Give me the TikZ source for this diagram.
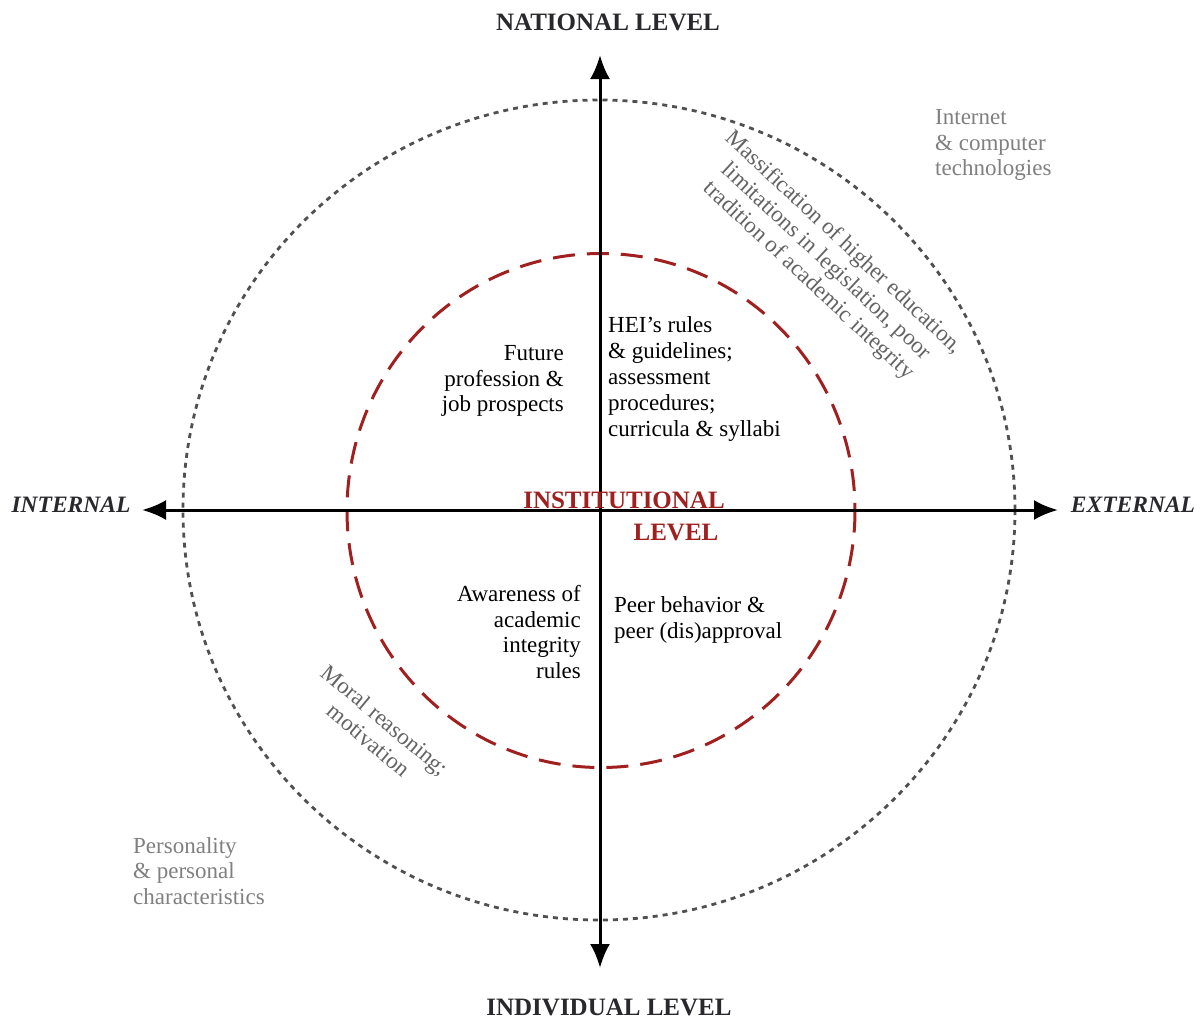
\documentclass[tikz,border=0pt]{standalone}
\usepackage{fontspec}
\setmainfont{Liberation Serif}
\usetikzlibrary{arrows.meta}
\definecolor{instred}{RGB}{160,32,32}
\definecolor{greytext}{RGB}{128,128,128}
\definecolor{rottext}{RGB}{100,100,100}
\definecolor{titletext}{RGB}{40,40,45}
\definecolor{dotgrey}{RGB}{80,80,80}
\begin{document}
\begin{tikzpicture}[x=1pt,y=-1pt,
  body/.style={font=\fontsize{23}{25.8}\selectfont, inner sep=0pt},
  title/.style={font=\fontsize{25}{28}\selectfont\bfseries, text=titletext, inner sep=0pt},
  side/.style={font=\fontsize{23.5}{26}\selectfont\bfseries\itshape, text=titletext, inner sep=0pt},
  inst/.style={font=\fontsize{25}{28}\selectfont\bfseries, text=instred, inner sep=0pt},
  grey/.style={body, text=greytext},
  rot/.style={body, text=rottext, align=center},
  axis/.style={line width=3pt, {Latex[length=24pt,width=20pt]}-{Latex[length=24pt,width=20pt]}},
  outer/.style={dotgrey, line width=2.8pt, dash pattern=on 5pt off 5pt},
  inner/.style={instred, line width=3pt, dash pattern=on 22pt off 12pt}]
\useasboundingbox (0,0) rectangle (1200,1021);
\fill[white] (0,0) rectangle (1200,1021);

% circles
\draw[outer] (599,510) ellipse [x radius=416, y radius=410];
\draw[inner] (601,510.5) ellipse [x radius=254, y radius=257];

% axes
\coordinate (ntop) at (600,55);
\coordinate (nbot) at (600,968);
\coordinate (nleft) at (142,510);
\coordinate (nright) at (1058,510);
\draw[axis] (ntop) -- (nbot);
\draw[axis] (nleft) -- (nright);

% axis labels
\node[title] (national) at (608,22) {NATIONAL LEVEL};
\node[title] (individual) at (609,1007) {INDIVIDUAL LEVEL};
\node[side] (internal) at (71,505) {INTERNAL};
\node[side] (external) at (1133,505) {EXTERNAL};

% institutional level
\node[inst] (instA) at (624,500) {INSTITUTIONAL};
\node[inst] (instB) at (676,532) {LEVEL};

% quadrant texts
\node[body, align=right, anchor=east] (future) at (564,381) {Future\\profession \&\\job prospects};
\node[body, align=left, anchor=west] (hei) at (608,379) {HEI’s rules\\\& guidelines;\\assessment\\procedures;\\curricula \& syllabi};
\node[body, align=right, anchor=east] (aware) at (581,632) {Awareness of\\academic\\integrity\\rules};
\node[body, align=left, anchor=west] (peer) at (614,620) {Peer behavior \&\\peer (dis)approval};

% grey outer texts
\node[grey, align=left, anchor=west] (internet) at (935,145) {Internet\\\& computer\\technologies};
\node[grey, align=left, anchor=west] (person) at (133,871) {Personality\\\& personal\\characteristics};

% rotated texts
\node[rot, rotate=-43] (mass) at (826,262) {Massification of higher education,\\limitations in legislation, poor\\tradition of academic integrity};
\node[rot, rotate=-40] (moral) at (377,730) {Moral reasoning;\\motivation};
\end{tikzpicture}
\end{document}
